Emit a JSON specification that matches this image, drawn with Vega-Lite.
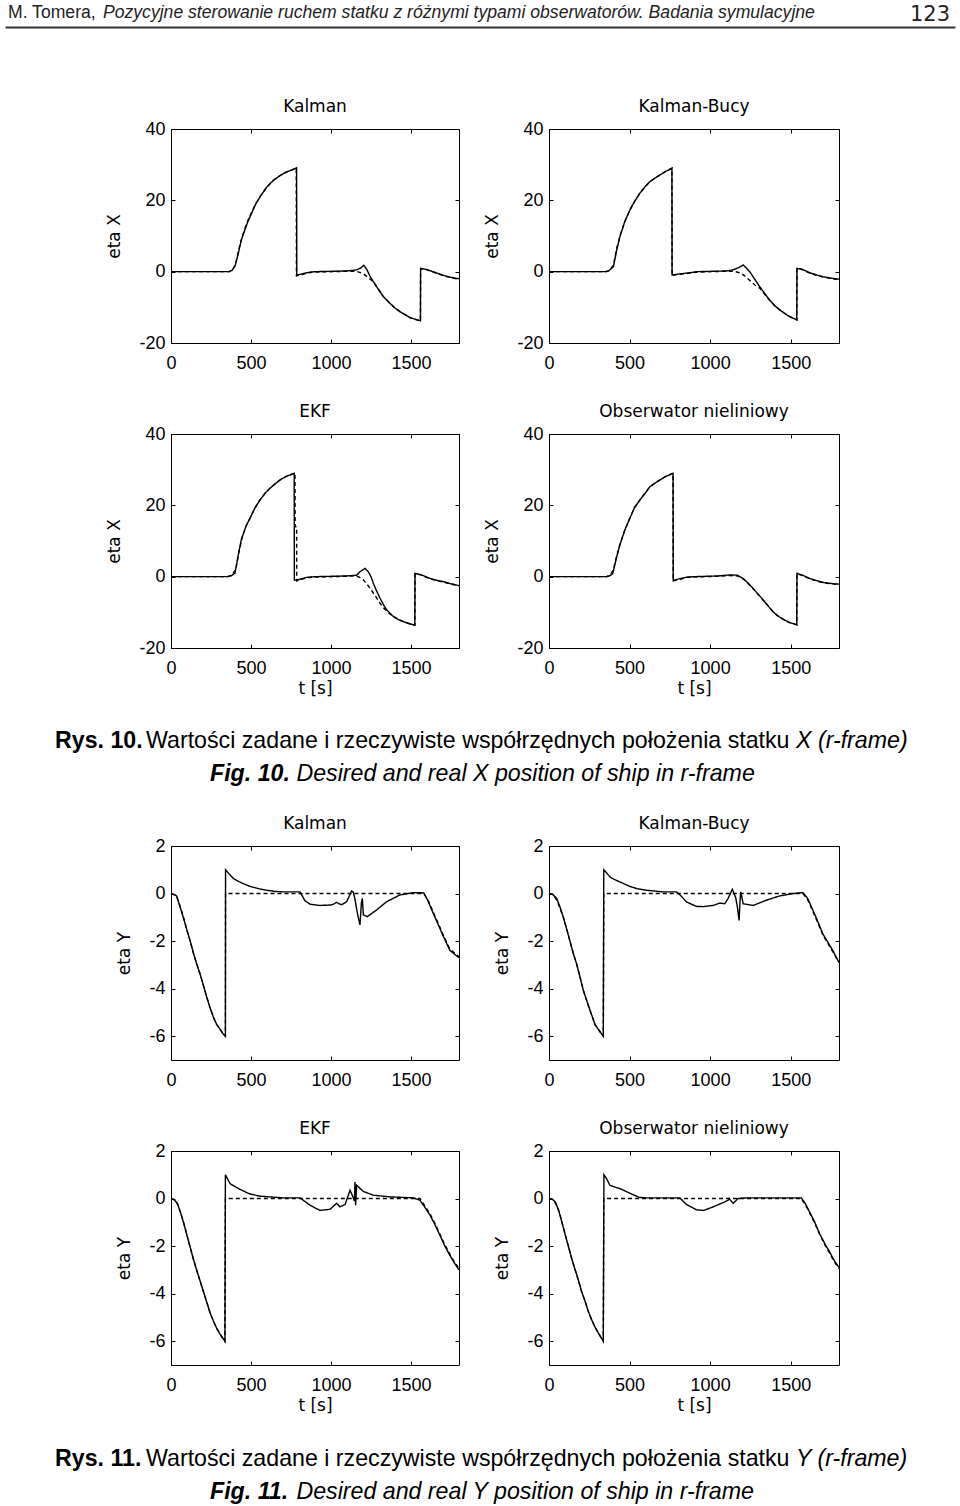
{
  "$schema": "https://vega.github.io/schema/vega-lite/v6.json",
  "background": "white",
  "padding": {"left": 5, "right": 5, "top": 0, "bottom": 0},
  "config": {
    "view": {"stroke": null},
    "font": "Liberation Sans",
    "axis": {
      "grid": false, "domain": false, "labelFlush": false, "labelOverlap": false, "labelBound": false,
      "tickColor": "#000", "tickSize": -4, "tickWidth": 1,
      "labelColor": "#000", "labelFont": "Liberation Sans", "labelFontSize": 18,
      "labelExpr": "'' + datum.value",
      "titleColor": "#000", "titleFont": "DejaVu Sans", "titleFontSize": 17, "titleFontWeight": "normal"
    },
    "axisX": {"labelPadding": 15, "titlePadding": 3},
    "axisY": {"labelPadding": 10, "titlePadding": 15},
    "title": {"font": "DejaVu Sans", "fontSize": 17, "fontWeight": "normal", "color": "#000", "anchor": "middle", "frame": "group", "baseline": "alphabetic", "offset": 4}
  },
  "datasets": {
    "XK": [
      {"s":"r","t":0,"v":0},{"s":"r","t":360,"v":0},{"s":"r","t":380,"v":0.3},{"s":"r","t":400,"v":1.5},{"s":"r","t":420,"v":5},{"s":"r","t":440,"v":9},{"s":"r","t":460,"v":11.5},{"s":"r","t":480,"v":14},{"s":"r","t":500,"v":16},{"s":"r","t":530,"v":19},{"s":"r","t":560,"v":21.2},{"s":"r","t":600,"v":23.8},{"s":"r","t":640,"v":25.6},{"s":"r","t":680,"v":26.9},{"s":"r","t":720,"v":27.9},{"s":"r","t":760,"v":28.6},{"s":"r","t":785,"v":29.1},{"s":"r","t":786,"v":-1},{"s":"r","t":820,"v":-0.6},{"s":"r","t":860,"v":-0.2},{"s":"r","t":900,"v":0},{"s":"r","t":1100,"v":0.2},{"s":"r","t":1160,"v":0.5},{"s":"r","t":1185,"v":1.0},{"s":"r","t":1205,"v":1.8},{"s":"r","t":1225,"v":0.5},{"s":"r","t":1245,"v":-1.4},{"s":"r","t":1285,"v":-4.2},{"s":"r","t":1327,"v":-7},{"s":"r","t":1369,"v":-8.9},{"s":"r","t":1400,"v":-10.2},{"s":"r","t":1431,"v":-11.2},{"s":"r","t":1494,"v":-12.9},{"s":"r","t":1559,"v":-13.8},{"s":"r","t":1560,"v":0.9},{"s":"r","t":1600,"v":0.6},{"s":"r","t":1650,"v":-0.2},{"s":"r","t":1700,"v":-1.0},{"s":"r","t":1750,"v":-1.6},{"s":"r","t":1800,"v":-2.0},
      {"s":"z","t":0,"v":0},{"s":"z","t":365,"v":0},{"s":"z","t":385,"v":0.5},{"s":"z","t":405,"v":2.5},{"s":"z","t":425,"v":6.5},{"s":"z","t":445,"v":9.8},{"s":"z","t":465,"v":12.5},{"s":"z","t":485,"v":14.8},{"s":"z","t":505,"v":16.8},{"s":"z","t":530,"v":19.1},{"s":"z","t":560,"v":21.3},{"s":"z","t":600,"v":23.8},{"s":"z","t":640,"v":25.6},{"s":"z","t":680,"v":26.9},{"s":"z","t":720,"v":27.9},{"s":"z","t":760,"v":28.6},{"s":"z","t":783,"v":29},{"s":"z","t":784,"v":-1.2},{"s":"z","t":820,"v":-0.8},{"s":"z","t":860,"v":-0.3},{"s":"z","t":900,"v":-0.1},{"s":"z","t":1100,"v":0.1},{"s":"z","t":1160,"v":0.1},{"s":"z","t":1200,"v":-0.5},{"s":"z","t":1230,"v":-1.6},{"s":"z","t":1260,"v":-2.6},{"s":"z","t":1290,"v":-4.5},{"s":"z","t":1327,"v":-7},{"s":"z","t":1369,"v":-8.9},{"s":"z","t":1400,"v":-10.2},{"s":"z","t":1431,"v":-11.2},{"s":"z","t":1494,"v":-12.9},{"s":"z","t":1559,"v":-13.8},{"s":"z","t":1560,"v":0.9},{"s":"z","t":1600,"v":0.5},{"s":"z","t":1650,"v":-0.3},{"s":"z","t":1700,"v":-1.1},{"s":"z","t":1750,"v":-1.7},{"s":"z","t":1800,"v":-2.1}
    ],
    "XKB": [
      {"s":"r","t":0,"v":0},{"s":"r","t":350,"v":0},{"s":"r","t":370,"v":0.2},{"s":"r","t":400,"v":1.4},{"s":"r","t":420,"v":6},{"s":"r","t":440,"v":9.8},{"s":"r","t":470,"v":14},{"s":"r","t":502,"v":17.3},{"s":"r","t":530,"v":19.6},{"s":"r","t":564,"v":22},{"s":"r","t":600,"v":24},{"s":"r","t":626,"v":25.2},{"s":"r","t":660,"v":26.3},{"s":"r","t":688,"v":27.1},{"s":"r","t":720,"v":28},{"s":"r","t":763,"v":29},{"s":"r","t":764,"v":-0.9},{"s":"r","t":800,"v":-0.7},{"s":"r","t":874,"v":-0.3},{"s":"r","t":920,"v":0},{"s":"r","t":1100,"v":0.2},{"s":"r","t":1143,"v":0.5},{"s":"r","t":1180,"v":1.2},{"s":"r","t":1205,"v":1.9},{"s":"r","t":1225,"v":1.0},{"s":"r","t":1246,"v":0},{"s":"r","t":1275,"v":-2},{"s":"r","t":1308,"v":-4.2},{"s":"r","t":1340,"v":-6.2},{"s":"r","t":1370,"v":-8},{"s":"r","t":1400,"v":-9.5},{"s":"r","t":1432,"v":-10.7},{"s":"r","t":1465,"v":-11.8},{"s":"r","t":1494,"v":-12.6},{"s":"r","t":1538,"v":-13.5},{"s":"r","t":1539,"v":0.9},{"s":"r","t":1570,"v":0.7},{"s":"r","t":1618,"v":-0.3},{"s":"r","t":1660,"v":-0.9},{"s":"r","t":1700,"v":-1.4},{"s":"r","t":1750,"v":-1.8},{"s":"r","t":1800,"v":-2.1},
      {"s":"z","t":0,"v":0},{"s":"z","t":355,"v":0},{"s":"z","t":375,"v":0.4},{"s":"z","t":400,"v":1.8},{"s":"z","t":420,"v":6.5},{"s":"z","t":440,"v":10},{"s":"z","t":470,"v":14},{"s":"z","t":502,"v":17.3},{"s":"z","t":530,"v":19.6},{"s":"z","t":564,"v":22},{"s":"z","t":600,"v":24},{"s":"z","t":626,"v":25.2},{"s":"z","t":660,"v":26.3},{"s":"z","t":688,"v":27.1},{"s":"z","t":720,"v":28},{"s":"z","t":763,"v":29},{"s":"z","t":764,"v":-1.1},{"s":"z","t":800,"v":-0.8},{"s":"z","t":874,"v":-0.4},{"s":"z","t":920,"v":-0.1},{"s":"z","t":1100,"v":0.1},{"s":"z","t":1150,"v":0.1},{"s":"z","t":1190,"v":-0.4},{"s":"z","t":1220,"v":-1.4},{"s":"z","t":1250,"v":-2.6},{"s":"z","t":1280,"v":-3.8},{"s":"z","t":1308,"v":-4.6},{"s":"z","t":1340,"v":-6.4},{"s":"z","t":1370,"v":-8},{"s":"z","t":1400,"v":-9.5},{"s":"z","t":1432,"v":-10.7},{"s":"z","t":1465,"v":-11.8},{"s":"z","t":1494,"v":-12.6},{"s":"z","t":1538,"v":-13.5},{"s":"z","t":1539,"v":0.9},{"s":"z","t":1570,"v":0.6},{"s":"z","t":1618,"v":-0.4},{"s":"z","t":1660,"v":-1.0},{"s":"z","t":1700,"v":-1.5},{"s":"z","t":1750,"v":-1.9},{"s":"z","t":1800,"v":-2.2}
    ],
    "XE": [
      {"s":"r","t":0,"v":0},{"s":"r","t":350,"v":0},{"s":"r","t":375,"v":0.2},{"s":"r","t":400,"v":1},{"s":"r","t":420,"v":6},{"s":"r","t":440,"v":10.5},{"s":"r","t":470,"v":14.3},{"s":"r","t":494,"v":16.4},{"s":"r","t":525,"v":19.3},{"s":"r","t":556,"v":21.5},{"s":"r","t":590,"v":23.5},{"s":"r","t":619,"v":24.8},{"s":"r","t":650,"v":26},{"s":"r","t":681,"v":27.1},{"s":"r","t":720,"v":28.1},{"s":"r","t":770,"v":29},{"s":"r","t":771,"v":-1},{"s":"r","t":800,"v":-0.8},{"s":"r","t":850,"v":-0.2},{"s":"r","t":900,"v":0},{"s":"r","t":1100,"v":0.2},{"s":"r","t":1160,"v":0.4},{"s":"r","t":1181,"v":1.4},{"s":"r","t":1213,"v":2.3},{"s":"r","t":1233,"v":1.4},{"s":"r","t":1250,"v":0},{"s":"r","t":1265,"v":-1.9},{"s":"r","t":1285,"v":-4},{"s":"r","t":1306,"v":-6},{"s":"r","t":1327,"v":-7.8},{"s":"r","t":1348,"v":-9.3},{"s":"r","t":1370,"v":-10.3},{"s":"r","t":1390,"v":-11.2},{"s":"r","t":1420,"v":-12},{"s":"r","t":1452,"v":-12.6},{"s":"r","t":1490,"v":-13.2},{"s":"r","t":1524,"v":-13.6},{"s":"r","t":1525,"v":0.9},{"s":"r","t":1560,"v":0.6},{"s":"r","t":1619,"v":-0.5},{"s":"r","t":1660,"v":-1},{"s":"r","t":1702,"v":-1.4},{"s":"r","t":1750,"v":-2},{"s":"r","t":1800,"v":-2.5},
      {"s":"z","t":0,"v":0},{"s":"z","t":355,"v":0},{"s":"z","t":380,"v":0.5},{"s":"z","t":405,"v":2},{"s":"z","t":425,"v":7},{"s":"z","t":445,"v":11},{"s":"z","t":470,"v":14.3},{"s":"z","t":494,"v":16.4},{"s":"z","t":525,"v":19.3},{"s":"z","t":556,"v":21.5},{"s":"z","t":590,"v":23.5},{"s":"z","t":619,"v":24.8},{"s":"z","t":650,"v":26},{"s":"z","t":681,"v":27.1},{"s":"z","t":720,"v":28.1},{"s":"z","t":775,"v":29},{"s":"z","t":776,"v":14},{"s":"z","t":785,"v":14},{"s":"z","t":786,"v":-1.2},{"s":"z","t":800,"v":-0.9},{"s":"z","t":850,"v":-0.3},{"s":"z","t":900,"v":-0.1},{"s":"z","t":1100,"v":0.1},{"s":"z","t":1150,"v":0.3},{"s":"z","t":1180,"v":-0.2},{"s":"z","t":1200,"v":-0.8},{"s":"z","t":1220,"v":-1.8},{"s":"z","t":1240,"v":-3},{"s":"z","t":1260,"v":-4.3},{"s":"z","t":1280,"v":-5.6},{"s":"z","t":1300,"v":-7},{"s":"z","t":1320,"v":-8.3},{"s":"z","t":1340,"v":-9.3},{"s":"z","t":1360,"v":-10.2},{"s":"z","t":1390,"v":-11.2},{"s":"z","t":1420,"v":-12},{"s":"z","t":1452,"v":-12.6},{"s":"z","t":1490,"v":-13.2},{"s":"z","t":1524,"v":-13.6},{"s":"z","t":1525,"v":0.8},{"s":"z","t":1560,"v":0.5},{"s":"z","t":1619,"v":-0.6},{"s":"z","t":1660,"v":-1.1},{"s":"z","t":1702,"v":-1.5},{"s":"z","t":1750,"v":-2.1},{"s":"z","t":1800,"v":-2.6}
    ],
    "XO": [
      {"s":"r","t":0,"v":0},{"s":"r","t":355,"v":0},{"s":"r","t":375,"v":0.2},{"s":"r","t":395,"v":0.8},{"s":"r","t":420,"v":5.5},{"s":"r","t":440,"v":8.9},{"s":"r","t":470,"v":13},{"s":"r","t":502,"v":16.4},{"s":"r","t":530,"v":19.3},{"s":"r","t":564,"v":21.5},{"s":"r","t":600,"v":23.6},{"s":"r","t":626,"v":25.2},{"s":"r","t":660,"v":26.3},{"s":"r","t":688,"v":27.1},{"s":"r","t":720,"v":28},{"s":"r","t":770,"v":29},{"s":"r","t":771,"v":-1},{"s":"r","t":800,"v":-0.7},{"s":"r","t":860,"v":-0.1},{"s":"r","t":900,"v":0},{"s":"r","t":1050,"v":0.2},{"s":"r","t":1122,"v":0.5},{"s":"r","t":1170,"v":0.4},{"s":"r","t":1205,"v":-0.5},{"s":"r","t":1236,"v":-1.8},{"s":"r","t":1267,"v":-3.3},{"s":"r","t":1298,"v":-4.9},{"s":"r","t":1329,"v":-6.5},{"s":"r","t":1360,"v":-8.2},{"s":"r","t":1390,"v":-9.8},{"s":"r","t":1420,"v":-11},{"s":"r","t":1452,"v":-11.9},{"s":"r","t":1490,"v":-12.8},{"s":"r","t":1538,"v":-13.5},{"s":"r","t":1539,"v":0.9},{"s":"r","t":1575,"v":0.4},{"s":"r","t":1618,"v":-0.5},{"s":"r","t":1660,"v":-1.1},{"s":"r","t":1700,"v":-1.6},{"s":"r","t":1750,"v":-1.9},{"s":"r","t":1800,"v":-2.1},
      {"s":"z","t":0,"v":0},{"s":"z","t":360,"v":0},{"s":"z","t":380,"v":0.5},{"s":"z","t":400,"v":2},{"s":"z","t":420,"v":5.8},{"s":"z","t":440,"v":9},{"s":"z","t":470,"v":13},{"s":"z","t":502,"v":16.4},{"s":"z","t":530,"v":19.3},{"s":"z","t":564,"v":21.5},{"s":"z","t":600,"v":23.6},{"s":"z","t":626,"v":25.2},{"s":"z","t":660,"v":26.3},{"s":"z","t":688,"v":27.1},{"s":"z","t":720,"v":28},{"s":"z","t":770,"v":29},{"s":"z","t":771,"v":-1.2},{"s":"z","t":800,"v":-0.9},{"s":"z","t":860,"v":-0.2},{"s":"z","t":900,"v":-0.1},{"s":"z","t":1050,"v":0.1},{"s":"z","t":1122,"v":0.3},{"s":"z","t":1170,"v":0.2},{"s":"z","t":1205,"v":-0.6},{"s":"z","t":1236,"v":-1.9},{"s":"z","t":1267,"v":-3.4},{"s":"z","t":1298,"v":-5},{"s":"z","t":1329,"v":-6.6},{"s":"z","t":1360,"v":-8.2},{"s":"z","t":1390,"v":-9.8},{"s":"z","t":1420,"v":-11},{"s":"z","t":1452,"v":-11.9},{"s":"z","t":1490,"v":-12.8},{"s":"z","t":1538,"v":-13.5},{"s":"z","t":1539,"v":0.8},{"s":"z","t":1575,"v":0.3},{"s":"z","t":1618,"v":-0.6},{"s":"z","t":1660,"v":-1.2},{"s":"z","t":1700,"v":-1.7},{"s":"z","t":1750,"v":-2},{"s":"z","t":1800,"v":-2.2}
    ],
    "YK": [
      {"s":"r","t":0,"v":0},{"s":"r","t":20,"v":-0.05},{"s":"r","t":35,"v":-0.1},{"s":"r","t":56,"v":-0.55},{"s":"r","t":77,"v":-1.0},{"s":"r","t":98,"v":-1.5},{"s":"r","t":120,"v":-2.0},{"s":"r","t":140,"v":-2.5},{"s":"r","t":160,"v":-2.95},{"s":"r","t":181,"v":-3.37},{"s":"r","t":202,"v":-3.85},{"s":"r","t":223,"v":-4.35},{"s":"r","t":244,"v":-4.8},{"s":"r","t":265,"v":-5.2},{"s":"r","t":285,"v":-5.5},{"s":"r","t":306,"v":-5.7},{"s":"r","t":325,"v":-5.9},{"s":"r","t":340,"v":-6.0},{"s":"r","t":341,"v":1.0},{"s":"r","t":360,"v":0.85},{"s":"r","t":390,"v":0.63},{"s":"r","t":440,"v":0.45},{"s":"r","t":494,"v":0.3},{"s":"r","t":550,"v":0.2},{"s":"r","t":598,"v":0.14},{"s":"r","t":650,"v":0.09},{"s":"r","t":702,"v":0.07},{"s":"r","t":806,"v":0.07},{"s":"r","t":837,"v":-0.3},{"s":"r","t":870,"v":-0.45},{"s":"r","t":931,"v":-0.5},{"s":"r","t":1000,"v":-0.48},{"s":"r","t":1015,"v":-0.45},{"s":"r","t":1035,"v":-0.37},{"s":"r","t":1050,"v":-0.43},{"s":"r","t":1067,"v":-0.47},{"s":"r","t":1098,"v":-0.34},{"s":"r","t":1129,"v":0.11},{"s":"r","t":1140,"v":0.05},{"s":"r","t":1150,"v":-0.25},{"s":"r","t":1165,"v":-0.83},{"s":"r","t":1181,"v":-1.32},{"s":"r","t":1187,"v":-0.7},{"s":"r","t":1190,"v":-0.4},{"s":"r","t":1196,"v":-0.2},{"s":"r","t":1202,"v":-0.9},{"s":"r","t":1227,"v":-0.97},{"s":"r","t":1285,"v":-0.69},{"s":"r","t":1348,"v":-0.34},{"s":"r","t":1431,"v":-0.06},{"s":"r","t":1515,"v":0.04},{"s":"r","t":1580,"v":0.03},{"s":"r","t":1608,"v":-0.34},{"s":"r","t":1640,"v":-0.85},{"s":"r","t":1670,"v":-1.3},{"s":"r","t":1702,"v":-1.8},{"s":"r","t":1744,"v":-2.4},{"s":"r","t":1800,"v":-2.7},
      {"s":"z","t":0,"v":0},{"s":"z","t":25,"v":-0.05},{"s":"z","t":40,"v":-0.2},{"s":"z","t":60,"v":-0.6},{"s":"z","t":80,"v":-1.05},{"s":"z","t":100,"v":-1.55},{"s":"z","t":120,"v":-2.0},{"s":"z","t":140,"v":-2.5},{"s":"z","t":160,"v":-2.95},{"s":"z","t":181,"v":-3.37},{"s":"z","t":202,"v":-3.85},{"s":"z","t":223,"v":-4.35},{"s":"z","t":244,"v":-4.8},{"s":"z","t":265,"v":-5.2},{"s":"z","t":285,"v":-5.5},{"s":"z","t":306,"v":-5.7},{"s":"z","t":325,"v":-5.9},{"s":"z","t":340,"v":-6.0},{"s":"z","t":341,"v":0},{"s":"z","t":1580,"v":0},{"s":"z","t":1608,"v":-0.3},{"s":"z","t":1640,"v":-0.8},{"s":"z","t":1670,"v":-1.25},{"s":"z","t":1702,"v":-1.75},{"s":"z","t":1744,"v":-2.35},{"s":"z","t":1800,"v":-2.65}
    ],
    "YKB": [
      {"s":"r","t":0,"v":0},{"s":"r","t":20,"v":-0.02},{"s":"r","t":48,"v":-0.2},{"s":"r","t":70,"v":-0.6},{"s":"r","t":89,"v":-1.0},{"s":"r","t":110,"v":-1.5},{"s":"r","t":130,"v":-2.0},{"s":"r","t":150,"v":-2.5},{"s":"r","t":171,"v":-2.95},{"s":"r","t":192,"v":-3.5},{"s":"r","t":213,"v":-4.07},{"s":"r","t":234,"v":-4.5},{"s":"r","t":254,"v":-4.9},{"s":"r","t":270,"v":-5.2},{"s":"r","t":285,"v":-5.5},{"s":"r","t":310,"v":-5.75},{"s":"r","t":337,"v":-6.0},{"s":"r","t":340,"v":1.0},{"s":"r","t":360,"v":0.85},{"s":"r","t":378,"v":0.7},{"s":"r","t":410,"v":0.58},{"s":"r","t":440,"v":0.49},{"s":"r","t":502,"v":0.3},{"s":"r","t":550,"v":0.2},{"s":"r","t":605,"v":0.14},{"s":"r","t":709,"v":0.07},{"s":"r","t":791,"v":0.07},{"s":"r","t":820,"v":-0.1},{"s":"r","t":853,"v":-0.35},{"s":"r","t":915,"v":-0.54},{"s":"r","t":960,"v":-0.55},{"s":"r","t":1019,"v":-0.5},{"s":"r","t":1060,"v":-0.4},{"s":"r","t":1091,"v":-0.43},{"s":"r","t":1112,"v":-0.2},{"s":"r","t":1138,"v":0.18},{"s":"r","t":1159,"v":-0.17},{"s":"r","t":1170,"v":-0.6},{"s":"r","t":1180,"v":-1.13},{"s":"r","t":1185,"v":-0.4},{"s":"r","t":1190,"v":0.07},{"s":"r","t":1196,"v":-0.1},{"s":"r","t":1205,"v":-0.43},{"s":"r","t":1267,"v":-0.5},{"s":"r","t":1349,"v":-0.28},{"s":"r","t":1432,"v":-0.1},{"s":"r","t":1514,"v":0},{"s":"r","t":1576,"v":0.04},{"s":"r","t":1605,"v":-0.2},{"s":"r","t":1638,"v":-0.7},{"s":"r","t":1670,"v":-1.2},{"s":"r","t":1700,"v":-1.7},{"s":"r","t":1731,"v":-2.05},{"s":"r","t":1762,"v":-2.4},{"s":"r","t":1800,"v":-2.9},
      {"s":"z","t":0,"v":0},{"s":"z","t":25,"v":-0.05},{"s":"z","t":50,"v":-0.3},{"s":"z","t":70,"v":-0.65},{"s":"z","t":89,"v":-1.0},{"s":"z","t":110,"v":-1.5},{"s":"z","t":130,"v":-2.0},{"s":"z","t":150,"v":-2.5},{"s":"z","t":171,"v":-2.95},{"s":"z","t":192,"v":-3.5},{"s":"z","t":213,"v":-4.07},{"s":"z","t":234,"v":-4.5},{"s":"z","t":254,"v":-4.9},{"s":"z","t":270,"v":-5.2},{"s":"z","t":285,"v":-5.5},{"s":"z","t":310,"v":-5.75},{"s":"z","t":337,"v":-6.0},{"s":"z","t":340,"v":0},{"s":"z","t":1576,"v":0},{"s":"z","t":1605,"v":-0.25},{"s":"z","t":1638,"v":-0.75},{"s":"z","t":1670,"v":-1.25},{"s":"z","t":1700,"v":-1.75},{"s":"z","t":1731,"v":-2.1},{"s":"z","t":1762,"v":-2.45},{"s":"z","t":1800,"v":-2.9}
    ],
    "YE": [
      {"s":"r","t":0,"v":0},{"s":"r","t":20,"v":-0.05},{"s":"r","t":40,"v":-0.2},{"s":"r","t":60,"v":-0.6},{"s":"r","t":80,"v":-1.05},{"s":"r","t":100,"v":-1.55},{"s":"r","t":120,"v":-2.05},{"s":"r","t":140,"v":-2.55},{"s":"r","t":160,"v":-3.0},{"s":"r","t":181,"v":-3.45},{"s":"r","t":202,"v":-3.9},{"s":"r","t":223,"v":-4.35},{"s":"r","t":244,"v":-4.8},{"s":"r","t":265,"v":-5.15},{"s":"r","t":285,"v":-5.45},{"s":"r","t":306,"v":-5.7},{"s":"r","t":337,"v":-6.0},{"s":"r","t":340,"v":1.0},{"s":"r","t":369,"v":0.63},{"s":"r","t":400,"v":0.5},{"s":"r","t":431,"v":0.39},{"s":"r","t":490,"v":0.2},{"s":"r","t":556,"v":0.1},{"s":"r","t":702,"v":0.03},{"s":"r","t":806,"v":0.03},{"s":"r","t":869,"v":-0.28},{"s":"r","t":931,"v":-0.5},{"s":"r","t":994,"v":-0.45},{"s":"r","t":1035,"v":-0.2},{"s":"r","t":1056,"v":-0.35},{"s":"r","t":1088,"v":-0.25},{"s":"r","t":1119,"v":0.35},{"s":"r","t":1133,"v":0.14},{"s":"r","t":1146,"v":-0.1},{"s":"r","t":1150,"v":0.7},{"s":"r","t":1154,"v":-0.28},{"s":"r","t":1160,"v":0.56},{"s":"r","t":1202,"v":0.3},{"s":"r","t":1265,"v":0.14},{"s":"r","t":1369,"v":0.07},{"s":"r","t":1515,"v":0.03},{"s":"r","t":1556,"v":-0.07},{"s":"r","t":1590,"v":-0.4},{"s":"r","t":1619,"v":-0.7},{"s":"r","t":1650,"v":-1.1},{"s":"r","t":1681,"v":-1.55},{"s":"r","t":1712,"v":-2.0},{"s":"r","t":1744,"v":-2.4},{"s":"r","t":1770,"v":-2.7},{"s":"r","t":1800,"v":-3.0},
      {"s":"z","t":0,"v":0},{"s":"z","t":25,"v":-0.05},{"s":"z","t":45,"v":-0.3},{"s":"z","t":65,"v":-0.7},{"s":"z","t":85,"v":-1.15},{"s":"z","t":100,"v":-1.55},{"s":"z","t":120,"v":-2.05},{"s":"z","t":140,"v":-2.55},{"s":"z","t":160,"v":-3.0},{"s":"z","t":181,"v":-3.45},{"s":"z","t":202,"v":-3.9},{"s":"z","t":223,"v":-4.35},{"s":"z","t":244,"v":-4.8},{"s":"z","t":265,"v":-5.15},{"s":"z","t":285,"v":-5.45},{"s":"z","t":306,"v":-5.7},{"s":"z","t":337,"v":-6.0},{"s":"z","t":340,"v":0},{"s":"z","t":1556,"v":0},{"s":"z","t":1590,"v":-0.35},{"s":"z","t":1619,"v":-0.65},{"s":"z","t":1650,"v":-1.05},{"s":"z","t":1681,"v":-1.5},{"s":"z","t":1712,"v":-1.95},{"s":"z","t":1744,"v":-2.35},{"s":"z","t":1770,"v":-2.65},{"s":"z","t":1800,"v":-2.95}
    ],
    "YO": [
      {"s":"r","t":0,"v":0},{"s":"r","t":20,"v":-0.02},{"s":"r","t":40,"v":-0.15},{"s":"r","t":60,"v":-0.5},{"s":"r","t":80,"v":-1.0},{"s":"r","t":100,"v":-1.5},{"s":"r","t":120,"v":-2.0},{"s":"r","t":140,"v":-2.5},{"s":"r","t":160,"v":-2.95},{"s":"r","t":181,"v":-3.4},{"s":"r","t":202,"v":-3.9},{"s":"r","t":223,"v":-4.3},{"s":"r","t":244,"v":-4.75},{"s":"r","t":265,"v":-5.1},{"s":"r","t":285,"v":-5.4},{"s":"r","t":306,"v":-5.65},{"s":"r","t":337,"v":-6.0},{"s":"r","t":339,"v":-2.5},{"s":"r","t":341,"v":1.0},{"s":"r","t":357,"v":0.84},{"s":"r","t":378,"v":0.56},{"s":"r","t":410,"v":0.48},{"s":"r","t":440,"v":0.42},{"s":"r","t":523,"v":0.16},{"s":"r","t":560,"v":0.05},{"s":"r","t":605,"v":0.03},{"s":"r","t":812,"v":0.03},{"s":"r","t":853,"v":-0.25},{"s":"r","t":915,"v":-0.47},{"s":"r","t":960,"v":-0.5},{"s":"r","t":1019,"v":-0.35},{"s":"r","t":1081,"v":-0.17},{"s":"r","t":1112,"v":-0.07},{"s":"r","t":1118,"v":0},{"s":"r","t":1143,"v":-0.2},{"s":"r","t":1174,"v":0},{"s":"r","t":1225,"v":0.03},{"s":"r","t":1566,"v":0.03},{"s":"r","t":1590,"v":-0.2},{"s":"r","t":1618,"v":-0.57},{"s":"r","t":1650,"v":-1.0},{"s":"r","t":1680,"v":-1.48},{"s":"r","t":1712,"v":-1.9},{"s":"r","t":1742,"v":-2.25},{"s":"r","t":1770,"v":-2.6},{"s":"r","t":1800,"v":-2.9},
      {"s":"z","t":0,"v":0},{"s":"z","t":25,"v":-0.05},{"s":"z","t":45,"v":-0.25},{"s":"z","t":65,"v":-0.6},{"s":"z","t":85,"v":-1.1},{"s":"z","t":100,"v":-1.5},{"s":"z","t":120,"v":-2.0},{"s":"z","t":140,"v":-2.5},{"s":"z","t":160,"v":-2.95},{"s":"z","t":181,"v":-3.4},{"s":"z","t":202,"v":-3.9},{"s":"z","t":223,"v":-4.3},{"s":"z","t":244,"v":-4.75},{"s":"z","t":265,"v":-5.1},{"s":"z","t":285,"v":-5.4},{"s":"z","t":306,"v":-5.65},{"s":"z","t":337,"v":-6.0},{"s":"z","t":340,"v":0},{"s":"z","t":1566,"v":0},{"s":"z","t":1590,"v":-0.25},{"s":"z","t":1618,"v":-0.6},{"s":"z","t":1650,"v":-1.05},{"s":"z","t":1680,"v":-1.5},{"s":"z","t":1712,"v":-1.95},{"s":"z","t":1742,"v":-2.3},{"s":"z","t":1770,"v":-2.65},{"s":"z","t":1800,"v":-2.95}
    ]
  },
  "columns": 3,
  "bounds": "flush",
  "align": "each",
  "spacing": {"row": 91, "column": 90},
  "concat": [
    {
      "width": 76, "height": 38,
      "data": {"values": [{}]},
      "layer": [
        {"mark": {"type": "text", "text": "M. Tomera,", "align": "left", "baseline": "alphabetic", "dx": 3, "dy": -1, "fontSize": 17.6, "color": "#222"},
         "encoding": {"x": {"datum": 0, "type": "quantitative", "scale": {"domain": [0, 1], "range": [0, 950], "nice": false},
           "axis": {"orient": "bottom", "offset": -11, "domain": true, "domainWidth": 2, "domainColor": "#333", "ticks": false, "labels": false, "title": null}}}},
        {"mark": {"type": "text", "text": "Pozycyjne sterowanie ruchem statku z różnymi typami obserwatorów. Badania symulacyjne", "align": "left", "baseline": "alphabetic", "dx": 98, "dy": -1, "fontSize": 17.6, "fontStyle": "italic", "color": "#222"},
         "encoding": {"x": {"datum": 0, "type": "quantitative"}}},
        {"mark": {"type": "text", "text": "123", "align": "right", "baseline": "alphabetic", "dx": -5, "dy": 2, "font": "DejaVu Sans", "fontSize": 21, "color": "#222"},
         "encoding": {"x": {"datum": 1, "type": "quantitative"}}}
      ]
    },
    {"width": 10, "height": 38, "data": {"values": [{}]}, "mark": {"type": "text", "text": ""}, "encoding": {}},
    {"width": 10, "height": 38, "data": {"values": [{}]}, "mark": {"type": "text", "text": ""}, "encoding": {}},
    {"width": 76, "height": 214, "data": {"values": [{}]}, "mark": {"type": "text", "text": ""}, "encoding": {}},
    {
      "width": 288, "height": 214, "data": {"name": "XK"}, "title": "Kalman",
      "view": {"stroke": "#000", "strokeWidth": 1},
      "layer": [
        {"mark": {"type": "line", "color": "#000", "strokeWidth": 1.4},
         "encoding": {
           "x": {"field": "t", "type": "quantitative", "scale": {"domain": [0, 1800], "nice": false}, "axis": {"orient": "bottom", "values": [0, 500, 1000, 1500], "title": null}},
           "y": {"field": "v", "type": "quantitative", "scale": {"domain": [-20, 40], "nice": false}, "axis": {"orient": "left", "values": [-20, 0, 20, 40], "title": "eta X"}},
           "strokeDash": {"field": "s", "type": "nominal", "scale": {"domain": ["z", "r"], "range": [[4, 3], [1, 0]]}, "legend": null}}},
        {"mark": {"type": "point", "opacity": 0},
         "encoding": {
           "x": {"field": "t", "type": "quantitative", "axis": {"orient": "top", "values": [0, 500, 1000, 1500], "labels": false, "title": null}},
           "y": {"field": "v", "type": "quantitative", "axis": {"orient": "right", "values": [-20, 0, 20, 40], "labels": false, "title": null}}}}
      ],
      "resolve": {"axis": {"x": "independent", "y": "independent"}}
    },
    {
      "width": 290, "height": 214, "data": {"name": "XKB"}, "title": "Kalman-Bucy",
      "view": {"stroke": "#000", "strokeWidth": 1},
      "layer": [
        {"mark": {"type": "line", "color": "#000", "strokeWidth": 1.4},
         "encoding": {
           "x": {"field": "t", "type": "quantitative", "scale": {"domain": [0, 1800], "nice": false}, "axis": {"orient": "bottom", "values": [0, 500, 1000, 1500], "title": null}},
           "y": {"field": "v", "type": "quantitative", "scale": {"domain": [-20, 40], "nice": false}, "axis": {"orient": "left", "values": [-20, 0, 20, 40], "title": "eta X"}},
           "strokeDash": {"field": "s", "type": "nominal", "scale": {"domain": ["z", "r"], "range": [[4, 3], [1, 0]]}, "legend": null}}},
        {"mark": {"type": "point", "opacity": 0},
         "encoding": {
           "x": {"field": "t", "type": "quantitative", "axis": {"orient": "top", "values": [0, 500, 1000, 1500], "labels": false, "title": null}},
           "y": {"field": "v", "type": "quantitative", "axis": {"orient": "right", "values": [-20, 0, 20, 40], "labels": false, "title": null}}}}
      ],
      "resolve": {"axis": {"x": "independent", "y": "independent"}}
    },
    {"width": 76, "height": 214, "data": {"values": [{}]}, "mark": {"type": "text", "text": ""}, "encoding": {}},
    {
      "width": 288, "height": 214, "data": {"name": "XE"}, "title": "EKF",
      "view": {"stroke": "#000", "strokeWidth": 1},
      "layer": [
        {"mark": {"type": "line", "color": "#000", "strokeWidth": 1.4},
         "encoding": {
           "x": {"field": "t", "type": "quantitative", "scale": {"domain": [0, 1800], "nice": false}, "axis": {"orient": "bottom", "values": [0, 500, 1000, 1500], "title": "t [s]"}},
           "y": {"field": "v", "type": "quantitative", "scale": {"domain": [-20, 40], "nice": false}, "axis": {"orient": "left", "values": [-20, 0, 20, 40], "title": "eta X"}},
           "strokeDash": {"field": "s", "type": "nominal", "scale": {"domain": ["z", "r"], "range": [[4, 3], [1, 0]]}, "legend": null}}},
        {"mark": {"type": "point", "opacity": 0},
         "encoding": {
           "x": {"field": "t", "type": "quantitative", "axis": {"orient": "top", "values": [0, 500, 1000, 1500], "labels": false, "title": null}},
           "y": {"field": "v", "type": "quantitative", "axis": {"orient": "right", "values": [-20, 0, 20, 40], "labels": false, "title": null}}}}
      ],
      "resolve": {"axis": {"x": "independent", "y": "independent"}}
    },
    {
      "width": 290, "height": 214, "data": {"name": "XO"}, "title": "Obserwator nieliniowy",
      "view": {"stroke": "#000", "strokeWidth": 1},
      "layer": [
        {"mark": {"type": "line", "color": "#000", "strokeWidth": 1.4},
         "encoding": {
           "x": {"field": "t", "type": "quantitative", "scale": {"domain": [0, 1800], "nice": false}, "axis": {"orient": "bottom", "values": [0, 500, 1000, 1500], "title": "t [s]"}},
           "y": {"field": "v", "type": "quantitative", "scale": {"domain": [-20, 40], "nice": false}, "axis": {"orient": "left", "values": [-20, 0, 20, 40], "title": "eta X"}},
           "strokeDash": {"field": "s", "type": "nominal", "scale": {"domain": ["z", "r"], "range": [[4, 3], [1, 0]]}, "legend": null}}},
        {"mark": {"type": "point", "opacity": 0},
         "encoding": {
           "x": {"field": "t", "type": "quantitative", "axis": {"orient": "top", "values": [0, 500, 1000, 1500], "labels": false, "title": null}},
           "y": {"field": "v", "type": "quantitative", "axis": {"orient": "right", "values": [-20, 0, 20, 40], "labels": false, "title": null}}}}
      ],
      "resolve": {"axis": {"x": "independent", "y": "independent"}}
    },
    {
      "width": 76, "height": 16,
      "data": {"values": [{}]},
      "layer": [
        {"mark": {"type": "text", "text": "Rys. 10.", "align": "left", "baseline": "alphabetic", "dx": 12, "dy": 1, "fontSize": 23.2, "fontWeight": "bold", "color": "#000"}, "encoding": {}},
        {"mark": {"type": "text", "text": "Wartości zadane i rzeczywiste współrzędnych położenia statku", "align": "left", "baseline": "alphabetic", "dx": 103, "dy": 1, "fontSize": 23.2, "color": "#000"}, "encoding": {}},
        {"mark": {"type": "text", "text": "X (r-frame)", "align": "left", "baseline": "alphabetic", "dx": 753, "dy": 1, "fontSize": 23.2, "fontStyle": "italic", "color": "#000"}, "encoding": {}},
        {"mark": {"type": "text", "text": "Fig. 10.", "align": "left", "baseline": "alphabetic", "dx": 167, "dy": 34, "fontSize": 23.2, "fontWeight": "bold", "fontStyle": "italic", "color": "#000"}, "encoding": {}},
        {"mark": {"type": "text", "text": "Desired and real X position of ship in r-frame", "align": "left", "baseline": "alphabetic", "dx": 253.4, "dy": 34, "fontSize": 23.2, "fontStyle": "italic", "color": "#000"}, "encoding": {}}
      ]
    },
    {"width": 10, "height": 16, "data": {"values": [{}]}, "mark": {"type": "text", "text": ""}, "encoding": {}},
    {"width": 10, "height": 16, "data": {"values": [{}]}, "mark": {"type": "text", "text": ""}, "encoding": {}},
    {"width": 76, "height": 214, "data": {"values": [{}]}, "mark": {"type": "text", "text": ""}, "encoding": {}},
    {
      "width": 288, "height": 214, "data": {"name": "YK"}, "title": "Kalman",
      "view": {"stroke": "#000", "strokeWidth": 1},
      "layer": [
        {"mark": {"type": "line", "color": "#000", "strokeWidth": 1.4},
         "encoding": {
           "x": {"field": "t", "type": "quantitative", "scale": {"domain": [0, 1800], "nice": false}, "axis": {"orient": "bottom", "values": [0, 500, 1000, 1500], "title": null}},
           "y": {"field": "v", "type": "quantitative", "scale": {"domain": [-7, 2], "nice": false}, "axis": {"orient": "left", "values": [-6, -4, -2, 0, 2], "title": "eta Y"}},
           "strokeDash": {"field": "s", "type": "nominal", "scale": {"domain": ["z", "r"], "range": [[4, 3], [1, 0]]}, "legend": null}}},
        {"mark": {"type": "point", "opacity": 0},
         "encoding": {
           "x": {"field": "t", "type": "quantitative", "axis": {"orient": "top", "values": [0, 500, 1000, 1500], "labels": false, "title": null}},
           "y": {"field": "v", "type": "quantitative", "axis": {"orient": "right", "values": [-6, -4, -2, 0, 2], "labels": false, "title": null}}}}
      ],
      "resolve": {"axis": {"x": "independent", "y": "independent"}}
    },
    {
      "width": 290, "height": 214, "data": {"name": "YKB"}, "title": "Kalman-Bucy",
      "view": {"stroke": "#000", "strokeWidth": 1},
      "layer": [
        {"mark": {"type": "line", "color": "#000", "strokeWidth": 1.4},
         "encoding": {
           "x": {"field": "t", "type": "quantitative", "scale": {"domain": [0, 1800], "nice": false}, "axis": {"orient": "bottom", "values": [0, 500, 1000, 1500], "title": null}},
           "y": {"field": "v", "type": "quantitative", "scale": {"domain": [-7, 2], "nice": false}, "axis": {"orient": "left", "values": [-6, -4, -2, 0, 2], "title": "eta Y"}},
           "strokeDash": {"field": "s", "type": "nominal", "scale": {"domain": ["z", "r"], "range": [[4, 3], [1, 0]]}, "legend": null}}},
        {"mark": {"type": "point", "opacity": 0},
         "encoding": {
           "x": {"field": "t", "type": "quantitative", "axis": {"orient": "top", "values": [0, 500, 1000, 1500], "labels": false, "title": null}},
           "y": {"field": "v", "type": "quantitative", "axis": {"orient": "right", "values": [-6, -4, -2, 0, 2], "labels": false, "title": null}}}}
      ],
      "resolve": {"axis": {"x": "independent", "y": "independent"}}
    },
    {"width": 76, "height": 214, "data": {"values": [{}]}, "mark": {"type": "text", "text": ""}, "encoding": {}},
    {
      "width": 288, "height": 214, "data": {"name": "YE"}, "title": "EKF",
      "view": {"stroke": "#000", "strokeWidth": 1},
      "layer": [
        {"mark": {"type": "line", "color": "#000", "strokeWidth": 1.4},
         "encoding": {
           "x": {"field": "t", "type": "quantitative", "scale": {"domain": [0, 1800], "nice": false}, "axis": {"orient": "bottom", "values": [0, 500, 1000, 1500], "title": "t [s]"}},
           "y": {"field": "v", "type": "quantitative", "scale": {"domain": [-7, 2], "nice": false}, "axis": {"orient": "left", "values": [-6, -4, -2, 0, 2], "title": "eta Y"}},
           "strokeDash": {"field": "s", "type": "nominal", "scale": {"domain": ["z", "r"], "range": [[4, 3], [1, 0]]}, "legend": null}}},
        {"mark": {"type": "point", "opacity": 0},
         "encoding": {
           "x": {"field": "t", "type": "quantitative", "axis": {"orient": "top", "values": [0, 500, 1000, 1500], "labels": false, "title": null}},
           "y": {"field": "v", "type": "quantitative", "axis": {"orient": "right", "values": [-6, -4, -2, 0, 2], "labels": false, "title": null}}}}
      ],
      "resolve": {"axis": {"x": "independent", "y": "independent"}}
    },
    {
      "width": 290, "height": 214, "data": {"name": "YO"}, "title": "Obserwator nieliniowy",
      "view": {"stroke": "#000", "strokeWidth": 1},
      "layer": [
        {"mark": {"type": "line", "color": "#000", "strokeWidth": 1.4},
         "encoding": {
           "x": {"field": "t", "type": "quantitative", "scale": {"domain": [0, 1800], "nice": false}, "axis": {"orient": "bottom", "values": [0, 500, 1000, 1500], "title": "t [s]"}},
           "y": {"field": "v", "type": "quantitative", "scale": {"domain": [-7, 2], "nice": false}, "axis": {"orient": "left", "values": [-6, -4, -2, 0, 2], "title": "eta Y"}},
           "strokeDash": {"field": "s", "type": "nominal", "scale": {"domain": ["z", "r"], "range": [[4, 3], [1, 0]]}, "legend": null}}},
        {"mark": {"type": "point", "opacity": 0},
         "encoding": {
           "x": {"field": "t", "type": "quantitative", "axis": {"orient": "top", "values": [0, 500, 1000, 1500], "labels": false, "title": null}},
           "y": {"field": "v", "type": "quantitative", "axis": {"orient": "right", "values": [-6, -4, -2, 0, 2], "labels": false, "title": null}}}}
      ],
      "resolve": {"axis": {"x": "independent", "y": "independent"}}
    },
    {
      "width": 76, "height": 16,
      "data": {"values": [{}]},
      "layer": [
        {"mark": {"type": "text", "text": "Rys. 11.", "align": "left", "baseline": "alphabetic", "dx": 12, "dy": 2, "fontSize": 23.2, "fontWeight": "bold", "color": "#000"}, "encoding": {}},
        {"mark": {"type": "text", "text": "Wartości zadane i rzeczywiste współrzędnych położenia statku", "align": "left", "baseline": "alphabetic", "dx": 103, "dy": 2, "fontSize": 23.2, "color": "#000"}, "encoding": {}},
        {"mark": {"type": "text", "text": "Y (r-frame)", "align": "left", "baseline": "alphabetic", "dx": 753, "dy": 2, "fontSize": 23.2, "fontStyle": "italic", "color": "#000"}, "encoding": {}},
        {"mark": {"type": "text", "text": "Fig. 11.", "align": "left", "baseline": "alphabetic", "dx": 167, "dy": 35, "fontSize": 23.2, "fontWeight": "bold", "fontStyle": "italic", "color": "#000"}, "encoding": {}},
        {"mark": {"type": "text", "text": "Desired and real Y position of ship in r-frame", "align": "left", "baseline": "alphabetic", "dx": 253.4, "dy": 35, "fontSize": 23.2, "fontStyle": "italic", "color": "#000"}, "encoding": {}}
      ]
    },
    {"width": 10, "height": 16, "data": {"values": [{}]}, "mark": {"type": "text", "text": ""}, "encoding": {}},
    {"width": 10, "height": 16, "data": {"values": [{}]}, "mark": {"type": "text", "text": ""}, "encoding": {}}
  ]
}
